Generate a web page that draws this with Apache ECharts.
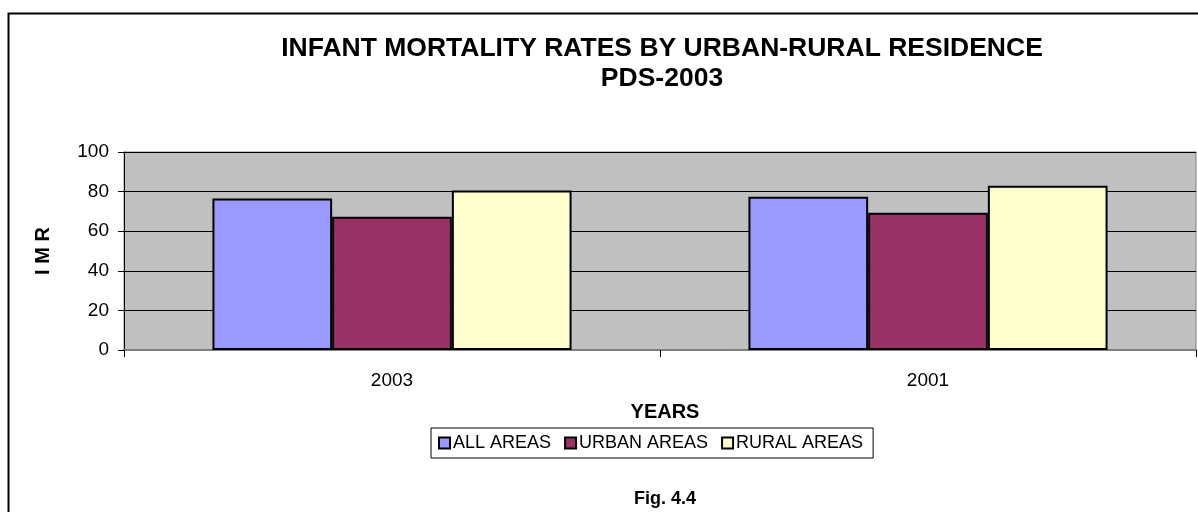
<!DOCTYPE html>
<html>
<head>
<meta charset="utf-8">
<script src="https://cdn.jsdelivr.net/npm/echarts@6/dist/echarts.min.js"></script>
<style>
html,body{margin:0;padding:0;background:#fff;}
#c{width:1198px;height:512px;}
</style>
</head>
<body>
<div id="c"></div>
<script>
const categories = ['2003', '2001'];
const allAreas = [76.5, 77.4];
const urbanAreas = [67.3, 69.3];
const ruralAreas = [80.5, 83];
const seriesNames = ['ALL AREAS', 'URBAN AREAS', 'RURAL AREAS'];
const seriesColors = ['#9999FF', '#993366', '#FFFFCC'];

const F = '"Liberation Sans", Arial, sans-serif';
const chart = echarts.init(document.getElementById('c'), null, {renderer: 'canvas'});
const dataSets = [allAreas, urbanAreas, ruralAreas];
chart.setOption({
  animation: false,
  backgroundColor: '#fff',
  title: [
    {text: 'INFANT MORTALITY RATES BY URBAN-RURAL RESIDENCE\nPDS-2003', left: 657, top: 29, textAlign: 'center',
     textStyle: {fontFamily: F, fontSize: 26.5, fontWeight: 'bold', color: '#000', lineHeight: 30}},
    {text: 'YEARS', left: 660, top: 397, textAlign: 'center',
     textStyle: {fontFamily: F, fontSize: 20, fontWeight: 'bold', color: '#000'}},
    {text: 'Fig. 4.4', left: 660, top: 485, textAlign: 'center',
     textStyle: {fontFamily: F, fontSize: 18, fontWeight: 'bold', color: '#000'}}
  ],
  graphic: [
    {type: 'rect', shape: {x: 8.5, y: 13.5, width: 1200, height: 510}, style: {fill: 'none', stroke: '#000', lineWidth: 2}, z: -1}
  ],
  legend: {
    data: seriesNames, left: 431, top: 428,
    padding: [6, 10, 6, 7], itemGap: 13, itemWidth: 11, itemHeight: 11,
    borderColor: '#000', borderWidth: 1, backgroundColor: '#fff',
    icon: 'rect',
    textStyle: {fontFamily: F, fontSize: 18, color: '#000', padding: [0, 0, 0, -2]}
  },
  grid: {left: 124, right: 2, top: 152, bottom: 162, show: true, backgroundColor: '#C0C0C0', borderColor: '#808080', borderWidth: 1},
  xAxis: {
    type: 'category', data: categories,
    axisLine: {lineStyle: {color: '#808080', width: 2}},
    axisTick: {show: true, length: 7, lineStyle: {color: '#000'}},
    axisLabel: {fontFamily: F, fontSize: 19, color: '#000', margin: 21}
  },
  yAxis: {
    type: 'value', min: 0, max: 100, interval: 20,
    name: 'I M R', nameLocation: 'middle', nameRotate: 90, nameGap: 71,
    nameTextStyle: {fontFamily: F, fontSize: 20, fontWeight: 'bold', color: '#000'},
    axisLine: {show: true, lineStyle: {color: '#000'}},
    axisTick: {show: true, length: 6, lineStyle: {color: '#000'}},
    axisLabel: {fontFamily: F, fontSize: 19, color: '#000', margin: 15},
    splitLine: {lineStyle: {color: '#000', width: 1}}
  },
  series: seriesNames.map((n, i) => ({
    name: n, type: 'bar', data: dataSets[i],
    barGap: '0%', barCategoryGap: '33%',
    itemStyle: {color: seriesColors[i], borderColor: '#000', borderWidth: 2}
  }))
});
</script>
</body>
</html>
